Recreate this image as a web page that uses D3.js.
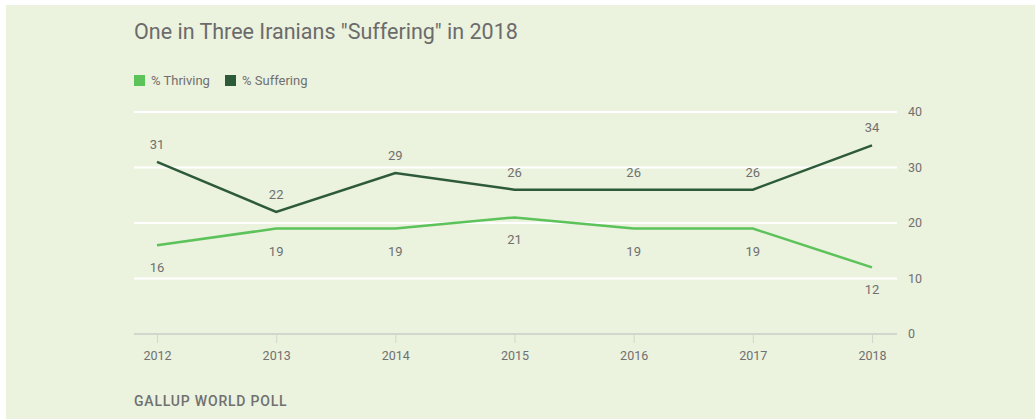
<!DOCTYPE html>
<html lang="en">
<head>
<meta charset="UTF-8">
<title>One in Three Iranians Suffering</title>
<script src="https://d3js.org/d3.v7.min.js"></script>
<style>
  body { margin: 0; background: #fff; }
  text { font-family: Roboto, "Noto Sans", sans-serif; }
</style>
</head>
<body>
<svg id="chart" width="1036" height="419"></svg>
<script>
  // chart data
  var years = [2012, 2013, 2014, 2015, 2016, 2017, 2018];
  var thriving = [16, 19, 19, 21, 19, 19, 12];
  var suffering = [31, 22, 29, 26, 26, 26, 34];
  var yTicks = [0, 10, 20, 30, 40];

  var svg = d3.select("#chart");

  // background panel
  svg.append("rect")
      .attr("x", 6).attr("y", 5)
      .attr("width", 1029).attr("height", 414)
      .attr("fill", "#ebf2de");

  var x = d3.scalePoint()
      .domain(years)
      .range([157, 872]);

  var y = d3.scaleLinear()
      .domain([0, 40])
      .range([334, 112]);

  // gridlines
  svg.append("g").selectAll("line")
      .data(yTicks.filter(function (d) { return d > 0; }))
      .enter().append("line")
      .attr("x1", 134).attr("x2", 897)
      .attr("y1", function (d) { return y(d); })
      .attr("y2", function (d) { return y(d); })
      .attr("stroke", "#fff")
      .attr("stroke-width", 2);

  // right y labels
  svg.append("g").selectAll("text")
      .data(yTicks)
      .enter().append("text")
      .attr("x", 908)
      .attr("y", function (d) { return y(d); })
      .attr("dy", "0.35em")
      .attr("font-size", 12.5)
      .attr("fill", "#707070")
      .text(function (d) { return d; });

  // x axis
  var xAxis = svg.append("g")
      .attr("transform", "translate(0,334)")
      .call(d3.axisBottom(x).tickSize(9).tickPadding(8));
  xAxis.select(".domain").remove();
  xAxis.insert("line", ":first-child")
      .attr("x1", 134).attr("x2", 897)
      .attr("stroke", "#d3d6cc").attr("stroke-width", 2);
  xAxis.selectAll(".tick line").attr("stroke", "#d3d6cc").attr("stroke-width", 1);
  xAxis.selectAll(".tick text")
      .attr("font-size", 12.5)
      .attr("fill", "#707070")
      .attr("font-family", "Roboto, sans-serif");

  var line = d3.line()
      .x(function (d) { return x(d.year); })
      .y(function (d) { return y(d.value); });

  function series(values) {
    return years.map(function (yr, i) { return { year: yr, value: values[i] }; });
  }

  var thrivingData = series(thriving);
  var sufferingData = series(suffering);

  svg.append("path")
      .datum(thrivingData)
      .attr("d", line)
      .attr("fill", "none")
      .attr("stroke", "#5cc25a")
      .attr("stroke-width", 2.5);

  svg.append("path")
      .datum(sufferingData)
      .attr("d", line)
      .attr("fill", "none")
      .attr("stroke", "#2d5a3a")
      .attr("stroke-width", 2.5);

  // value labels
  svg.append("g").selectAll("text")
      .data(sufferingData)
      .enter().append("text")
      .attr("x", function (d) { return x(d.year); })
      .attr("y", function (d) { return y(d.value) - 13; })
      .attr("text-anchor", "middle")
      .attr("font-size", 13)
      .attr("fill", "#707070")
      .text(function (d) { return d.value; });

  svg.append("g").selectAll("text")
      .data(thrivingData)
      .enter().append("text")
      .attr("x", function (d) { return x(d.year); })
      .attr("y", function (d) { return y(d.value) + 27; })
      .attr("text-anchor", "middle")
      .attr("font-size", 13)
      .attr("fill", "#707070")
      .text(function (d) { return d.value; });

  // title
  svg.append("text")
      .attr("x", 134).attr("y", 39)
      .attr("font-size", 21.5)
      .attr("fill", "#6b6b6b")
      .text('One in Three Iranians "Suffering" in 2018');

  // legend
  var legendItems = [
    { label: "% Thriving", color: "#5cc25a", x: 134 },
    { label: "% Suffering", color: "#2d5a3a", x: 225 }
  ];
  var legend = svg.append("g").selectAll("g")
      .data(legendItems)
      .enter().append("g")
      .attr("transform", function (d) { return "translate(" + d.x + ",75)"; });
  legend.append("rect")
      .attr("width", 11).attr("height", 11)
      .attr("fill", function (d) { return d.color; });
  legend.append("text")
      .attr("x", 17).attr("y", 10)
      .attr("font-size", 13)
      .attr("fill", "#707070")
      .text(function (d) { return d.label; });

  // source
  svg.append("text")
      .attr("x", 134).attr("y", 406)
      .attr("font-size", 14)
      .attr("font-weight", 500)
      .attr("letter-spacing", 0.8)
      .attr("fill", "#707070")
      .text("GALLUP WORLD POLL");
</script>
</body>
</html>
